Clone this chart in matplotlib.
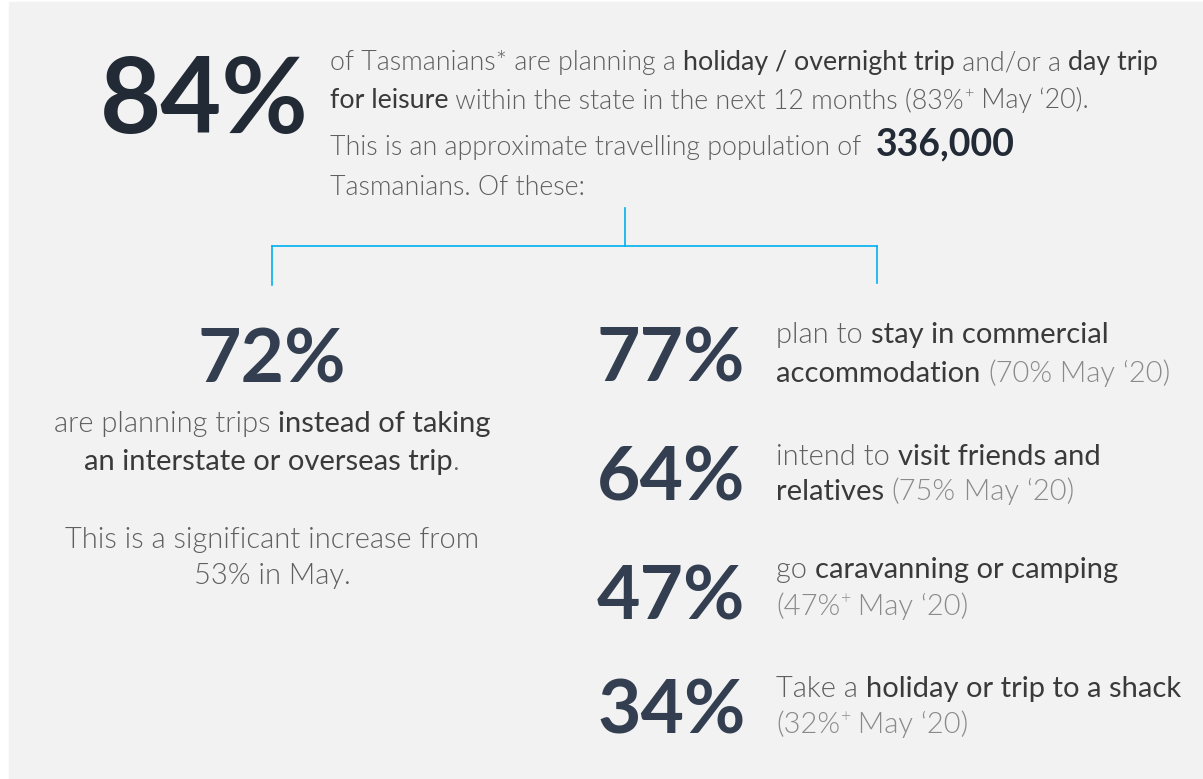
"""
Tasmanian travel intentions infographic
"""

import matplotlib.pyplot as plt
from matplotlib.patches import Rectangle

# Data
headline_pct = 84
headline_prev_pct = 83
travel_population = 336000
instead_pct = 72
instead_prev_pct = 53
activity_pct = [77, 64, 47, 34]
activity_prev_pct = [70, 75, 47, 32]
activity_plus = [False, False, True, True]
activity_lead = ["plan to ", "intend to ", "go ", "Take a "]
activity_bold = ["stay in commercial", "visit friends and", "caravanning or camping",
                 "holiday or trip to a shack"]
activity_bold2 = ["accommodation", "relatives", "", ""]

# Colours / fonts
FONT = "Lato"
BG = "#f2f2f2"
LIGHT = "#5f5f5f"
DARK = "#3a3a3a"
PAREN = "#8a8a8a"
NUM = "#333f50"
NUM_TOP = "#222a35"
BLUE = "#00b0f0"

fig = plt.figure(figsize=(12.03, 7.79), dpi=100, facecolor="white")
ax = fig.add_axes([0, 0, 1, 1])
ax.set_xlim(0, 1203)
ax.set_ylim(779, 0)
ax.axis("off")
ax.add_patch(Rectangle((9, 2), 1200, 780, color=BG, zorder=0))

renderer = fig.canvas.get_renderer()


def style(kind, size):
    if kind == "L":
        return dict(fontsize=size, fontweight=300, color=LIGHT)
    if kind == "B":
        return dict(fontsize=size, fontweight="normal", color=DARK)
    if kind == "P":
        return dict(fontsize=size, fontweight=300, color=PAREN)
    if kind == "PS":
        return dict(fontsize=size * 0.6, fontweight=300, color=PAREN, rise=size * 0.55)
    if kind == "LS":
        return dict(fontsize=size * 0.6, fontweight=300, color=LIGHT, rise=size * 0.55)
    if kind == "N":
        return dict(fontsize=27, fontweight="bold", color=NUM_TOP)


def width(s, kw):
    kw = {k: v for k, v in kw.items() if k != "rise"}
    a = ax.text(0, 0, "|" + s + "|", family=FONT, **kw)
    b = ax.text(0, 0, "||", family=FONT, **kw)
    w = a.get_window_extent(renderer).width - b.get_window_extent(renderer).width
    a.remove()
    b.remove()
    return w


def line(x, y, runs, size, ha="left"):
    parts = []
    total = 0
    for s, kind in runs:
        kw = style(kind, size)
        w = width(s, kw)
        parts.append((s, kw, w))
        total += w
    if ha == "center":
        x = x - total / 2
    for s, kw, w in parts:
        kw = dict(kw)
        rise = kw.pop("rise", 0)
        ax.text(x, y - rise, s, family=FONT, va="baseline", ha="left", **kw)
        x += w


# Top headline
ax.text(100, 133, f"{headline_pct}%", family=FONT, fontsize=76, fontweight="bold",
        color=NUM_TOP, va="baseline")
S = 19.3
line(330, 70, [("of Tasmanians* are planning a ", "L"), ("holiday / overnight trip", "B"),
               (" and/or a ", "L"), ("day trip", "B")], S)
line(330, 108, [("for leisure", "B"), (f" within the state in the next 12 months ({headline_prev_pct}%", "L"),
                ("+", "LS"), (" May \u201820).", "L")], S)
line(330, 155, [("This is an approximate travelling population of  ", "L"),
                (f"{travel_population:,}", "N")], S)
line(330, 195, [("Tasmanians. Of these:", "L")], S)

# Connector
ax.plot([625, 625], [208, 246], color=BLUE, lw=1.2)
ax.plot([272, 877], [246, 246], color=BLUE, lw=1.2)
ax.plot([272, 272], [246, 285], color=BLUE, lw=1.2)
ax.plot([877, 877], [246, 283], color=BLUE, lw=1.2)

# Left column
ax.text(272, 382, f"{instead_pct}%", family=FONT, fontsize=54, fontweight="bold",
        color=NUM, va="baseline", ha="center")
S2 = 21
line(272, 432, [("are planning trips ", "L"), ("instead of taking", "B")], S2, ha="center")
line(272, 470, [("an interstate or overseas trip", "B"), (".", "L")], S2, ha="center")
line(272, 548, [("This is a significant increase from", "L")], S2, ha="center")
line(272, 584, [(f"{instead_prev_pct}% in May.", "L")], S2, ha="center")

# Right column
num_base = [381, 500, 619, 733]
txt_base = [(343, 382), (465, 500), (578, 615), (697, 733)]
for i in range(len(activity_pct)):
    ax.text(597, num_base[i], f"{activity_pct[i]}%", family=FONT, fontsize=54,
            fontweight="bold", color=NUM, va="baseline")
    y1, y2 = txt_base[i]
    plus = [("+", "PS")] if activity_plus[i] else []
    paren = [(f"({activity_prev_pct[i]}%", "P")] + plus + [(" May \u201820)", "P")]
    line(776, y1, [(activity_lead[i], "L"), (activity_bold[i], "B")], S2)
    if activity_bold2[i]:
        line(776, y2, [(activity_bold2[i] + " ", "B")] + paren, S2)
    else:
        line(776, y2, paren, S2)

fig.savefig("out.png", dpi=100, facecolor="white")
